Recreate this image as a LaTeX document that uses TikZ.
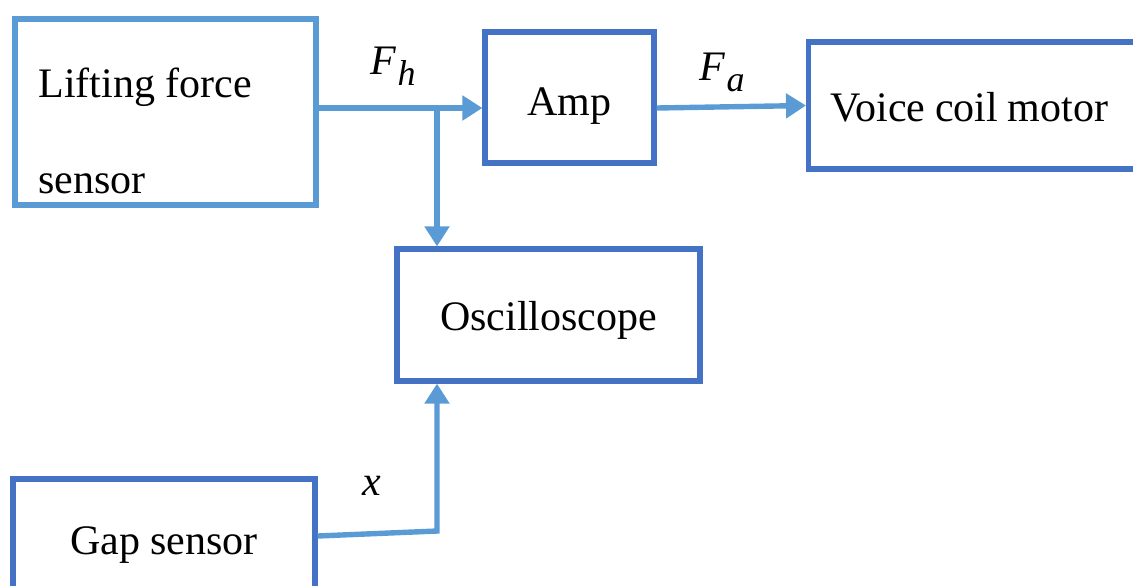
\documentclass[tikz,border=0pt]{standalone}
\usepackage{fontspec}
\setmainfont{Liberation Serif}
\usetikzlibrary{arrows.meta}
\definecolor{lightb}{HTML}{5B9BD5}
\definecolor{darkb}{HTML}{4472C4}
\newcommand{\subvar}[2]{\textit{#1}\kern0.5pt\raisebox{-0.28em}{\fontsize{18}{20}\selectfont\textit{#2}}}
\begin{document}
\begin{tikzpicture}[x=0.5pt,y=-0.5pt,
  font=\fontsize{21}{24}\selectfont,
  blk/.style={draw=darkb,line width=2.6pt,rectangle,inner sep=0pt},
  lblk/.style={draw=lightb,line width=2.6pt,rectangle,inner sep=0pt},
  txt/.style={inner sep=0pt,anchor=base west},
  lab/.style={inner sep=0pt,anchor=base},
  arr/.style={draw=lightb,line width=2.7pt,-{Triangle[length=10pt,width=12pt]}}]
\useasboundingbox (0,0) rectangle (1133,585);
\begin{scope}
\clip (0,0) rectangle (1133,585);
% blocks
\node[lblk,minimum width=150.5pt,minimum height=93pt] (lift) at (165.5,112) {};
\node[txt] (liftA) at (38,97) {Lifting force};
\node[txt] (liftB) at (38,193) {sensor};
\node[blk,minimum width=84.5pt,minimum height=65.5pt,text height=17.5pt,text depth=0pt] (amp) at (569.5,97.5) {Amp};
\node[blk,anchor=west,minimum width=172pt,minimum height=63.5pt,text width=150pt,align=left,inner xsep=10pt,text height=15.5pt,text depth=0pt] (vcm) at (806,105.5) {\spaceskip=0.23em plus 0.1em minus 0.05em Voice coil motor};
\node[blk,minimum width=151.5pt,minimum height=66pt,text height=15pt,text depth=0pt] (osc) at (548.5,315) {Oscilloscope};
\node[blk,minimum width=151pt,minimum height=75pt,text height=12pt,text depth=12pt] (gap) at (164,554) {Gap sensor};
% connectors
\coordinate (j) at (437,108);
\coordinate (k) at (437,531);
\draw[arr] (lift.east |- j) -- (amp.west |- j);
\draw[arr] (j) -- (j |- osc.north);
\draw[arr] ([yshift=-5.25pt]amp.east) -- (vcm.west);
\draw[arr] ([yshift=9pt]gap.east) -- (k) -- (k |- osc.south);
% labels
\node[lab] (fh) at (393,74) {\subvar{F}{h}};
\node[lab] (fa) at (722,80) {\subvar{F}{a}};
\node[lab] (xl) at (372,495) {\textit{x}};
\end{scope}
\end{tikzpicture}
\end{document}
